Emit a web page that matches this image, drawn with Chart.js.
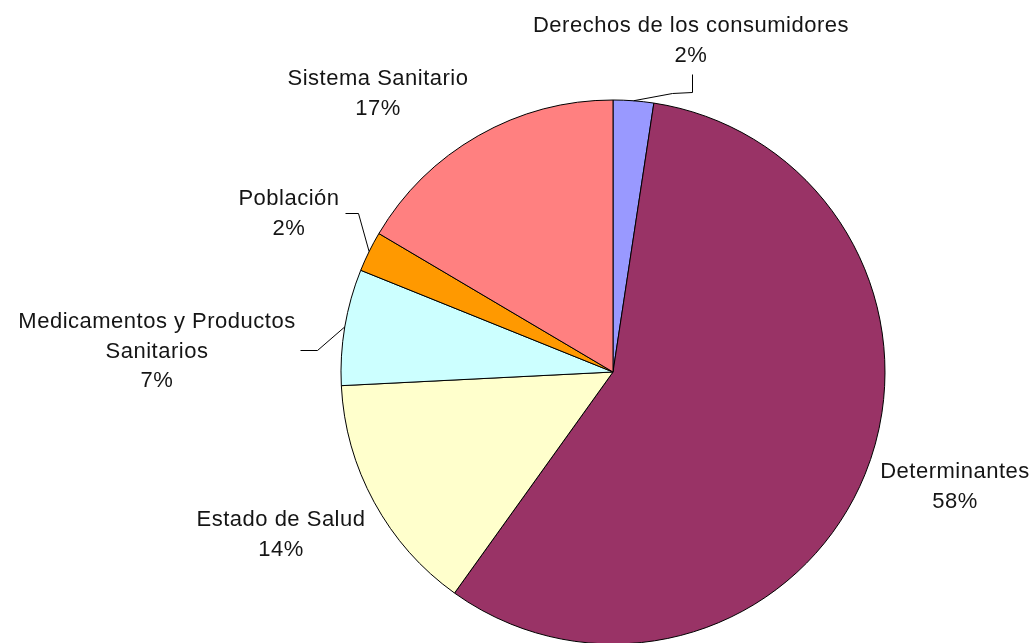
<!DOCTYPE html>
<html><head><meta charset="utf-8">
<script src="https://cdn.jsdelivr.net/npm/chart.js@4/dist/chart.umd.min.js"></script>
<style>
html,body{margin:0;padding:0;background:#fff;overflow:hidden;width:1034px;height:643px}
#wrap{width:1034px;height:700px}
</style>
</head><body><div id="wrap"><canvas id="c" width="1034" height="700"></canvas></div>
<script>
const categories = ["Derechos de los consumidores","Determinantes","Estado de Salud","Medicamentos y Productos Sanitarios","Población","Sistema Sanitario"];
const values = [2.4, 57.5, 14.3, 6.9, 2.4, 16.5];
const colors = ["#9999FF","#993366","#FFFFCC","#CCFFFF","#FF9900","#FF8080"];
const labelLines = [["Derechos de los consumidores"],["Determinantes"],["Estado de Salud"],["Medicamentos y Productos","Sanitarios"],["Población"],["Sistema Sanitario"]];

// label placement (layout only)
const labelLayout = [
  {x:691, y:32, leader:[[692,74],[692,92],[672,93]]},
  {x:955, y:478},
  {x:281, y:526},
  {x:157, y:328, leader:[[300,350],[317,350]]},
  {x:289, y:205, leader:[[345,213],[358,213]]},
  {x:378, y:85}
];

const labelPlugin = {
  id:'labels',
  afterDatasetsDraw(chart){
    const ctx = chart.ctx;
    const meta = chart.getDatasetMeta(0);
    const total = values.reduce((a,b)=>a+b,0);
    ctx.save();
    ctx.font = '22px "Liberation Sans", Arial, sans-serif';
    try { ctx.letterSpacing = '0.5px'; } catch(e) {}
    ctx.fillStyle = '#151515';
    ctx.textAlign = 'center';
    ctx.textBaseline = 'alphabetic';
    meta.data.forEach((arc,i)=>{
      const L = labelLayout[i];
      const pct = Math.round(Math.round(values[i]/total*1000)/10);
      const lines = labelLines[i].concat([pct+'%']);
      lines.forEach((t,k)=>ctx.fillText(t, L.x, L.y + k*29.5));
      if (L.leader){
        const p = arc.getProps(['x','y','startAngle','endAngle','outerRadius'], true);
        const mid = (p.startAngle+p.endAngle)/2;
        const ex = p.x + Math.cos(mid)*p.outerRadius;
        const ey = p.y + Math.sin(mid)*p.outerRadius;
        ctx.beginPath();
        ctx.strokeStyle = '#000';
        ctx.lineWidth = 1;
        L.leader.forEach((q,j)=> j ? ctx.lineTo(q[0]+0.5,q[1]+0.5) : ctx.moveTo(q[0]+0.5,q[1]+0.5));
        ctx.lineTo(ex,ey);
        ctx.stroke();
      }
    });
    ctx.restore();
  }
};

new Chart(document.getElementById('c'), {
  type:'pie',
  data:{
    labels:categories,
    datasets:[{data:values, backgroundColor:colors, borderColor:'#000', borderWidth:1, hoverOffset:0}]
  },
  options:{
    responsive:false,
    animation:false,
    radius:272,
    events:[],
    layout:{padding:{left:341,right:149,top:100,bottom:56}},
    plugins:{legend:{display:false}, tooltip:{enabled:false}}
  },
  plugins:[labelPlugin]
});
</script>
</body></html>
